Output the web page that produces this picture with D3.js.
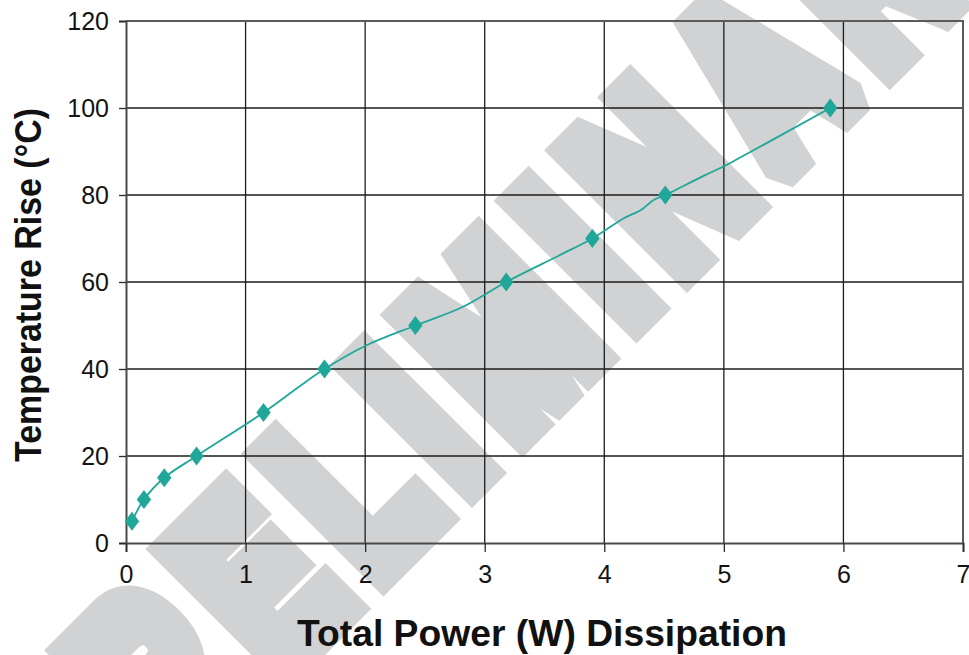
<!DOCTYPE html>
<html>
<head>
<meta charset="utf-8">
<script src="https://cdn.jsdelivr.net/npm/d3@7"></script>
<style>
  html, body { margin: 0; padding: 0; background: #ffffff; }
  svg { display: block; }
</style>
</head>
<body>
<svg id="chart" width="969" height="655"></svg>
<script>
// Measured points (diamond markers)
const powerW   = [0.05, 0.15, 0.32, 0.59, 1.15, 1.66, 2.42, 3.18, 3.90, 4.51, 5.89];
const tempRise = [5, 10, 15, 20, 30, 40, 50, 60, 70, 80, 100];

// Traced curve through the measurements
const traceW    = [0.05, 0.15, 0.32, 0.59, 1.15, 1.45, 1.66, 2.00, 2.42, 2.81, 3.18, 3.63, 3.90, 4.16, 4.31, 4.41, 4.51, 4.83, 5.00, 5.11, 5.89];
const traceRise = [5, 10, 15, 20, 30, 36, 40, 45.3, 50, 54.2, 60, 66.2, 70, 74.6, 76.6, 78.8, 80, 84.4, 86.6, 88.2, 100];

const xTicks = [0, 1, 2, 3, 4, 5, 6, 7];
const yTicks = [0, 20, 40, 60, 80, 100, 120];

const xTitle = "Total Power (W) Dissipation";
const yTitle = "Temperature Rise (°C)";
const stampText = "PRELIMINARY";

const plot = { left: 126, right: 963, top: 21, bottom: 543 };
const teal = "#1fa79a";
const font = "'Liberation Sans', Arial, Helvetica, sans-serif";

const svg = d3.select("#chart");

const x = d3.scaleLinear().domain([0, 7]).range([plot.left, plot.right]);
const y = d3.scaleLinear().domain([0, 120]).range([plot.bottom, plot.top]);

// Grey "PRELIMINARY" stamp behind the chart: heavy condensed letters on a 45° diagonal
svg.append("text")
  .attr("transform", "translate(79.8,873.2) rotate(-45) scale(0.684,1)")
  .attr("font-family", font)
  .attr("font-weight", "bold")
  .attr("font-size", 238)
  .attr("letter-spacing", 37.9)
  .attr("fill", "#d1d2d4")
  .attr("stroke", "#d1d2d4")
  .attr("stroke-width", 38.3)
  .attr("stroke-linejoin", "miter")
  .attr("stroke-miterlimit", 1.5)
  .text(stampText);

// Grid
const grid = svg.append("g");
grid.selectAll("line.gx")
  .data(xTicks.filter(d => d > 0 && d < 7))
  .join("line")
  .attr("x1", d => x(d)).attr("x2", d => x(d))
  .attr("y1", plot.top).attr("y2", plot.bottom)
  .attr("stroke", "#1c1c1c").attr("stroke-width", 1.3);
grid.selectAll("line.gy")
  .data(yTicks.filter(d => d > 0 && d < 120))
  .join("line")
  .attr("x1", plot.left).attr("x2", plot.right)
  .attr("y1", d => y(d)).attr("y2", d => y(d))
  .attr("stroke", "#1c1c1c").attr("stroke-width", 1.3);

// Frame top/right
svg.append("path")
  .attr("d", `M${plot.left},${plot.top}H${plot.right}V${plot.bottom}`)
  .attr("fill", "none").attr("stroke", "#5a5a5a").attr("stroke-width", 2);

// Axes
const xAxis = d3.axisBottom(x).tickValues(xTicks).tickSize(9).tickPadding(13).tickFormat(d3.format("d"));
const yAxis = d3.axisLeft(y).tickValues(yTicks).tickSize(7).tickPadding(10).tickFormat(d3.format("d"));

const gx = svg.append("g").attr("transform", `translate(0,${plot.bottom})`).call(xAxis);
const gy = svg.append("g").attr("transform", `translate(${plot.left},0)`).call(yAxis);

[gx, gy].forEach(g => {
  g.select(".domain").attr("stroke", "#4a4a4a").attr("stroke-width", 2);
  g.selectAll(".tick line").attr("stroke", "#2a2a2a").attr("stroke-width", 1.3);
  g.selectAll(".tick text")
    .attr("fill", "#141414")
    .attr("font-family", font)
    .attr("font-size", 25);
});
gy.selectAll(".tick text").attr("dy", "0.34em");

// Curve
const curve = d3.line()
  .x((d, i) => x(traceW[i]))
  .y(d => y(d))
  .curve(d3.curveCatmullRom.alpha(0.5));
svg.append("path")
  .attr("d", curve(traceRise))
  .attr("fill", "none")
  .attr("stroke", teal)
  .attr("stroke-width", 1.8);

// Diamond markers
const diamond = "M0,-9.5L7.2,0L0,9.5L-7.2,0Z";
svg.append("g").selectAll("path")
  .data(tempRise)
  .join("path")
  .attr("transform", (d, i) => `translate(${x(powerW[i])},${y(d)})`)
  .attr("d", diamond)
  .attr("fill", teal);

// Axis titles
svg.append("text")
  .attr("x", 542).attr("y", 646)
  .attr("text-anchor", "middle")
  .attr("font-family", font)
  .attr("font-weight", "bold")
  .attr("font-size", 37)
  .attr("textLength", 490)
  .attr("lengthAdjust", "spacingAndGlyphs")
  .attr("fill", "#111")
  .text(xTitle);

svg.append("text")
  .attr("transform", "translate(41,285) rotate(-90)")
  .attr("text-anchor", "middle")
  .attr("font-family", font)
  .attr("font-weight", "bold")
  .attr("font-size", 37)
  .attr("textLength", 354)
  .attr("lengthAdjust", "spacingAndGlyphs")
  .attr("fill", "#111")
  .text(yTitle);
</script>
</body>
</html>
